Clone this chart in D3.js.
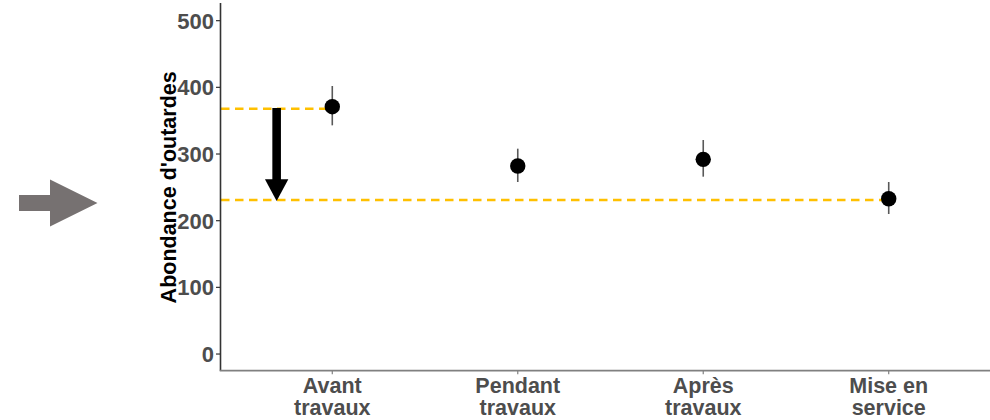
<!DOCTYPE html>
<html>
<head>
<meta charset="utf-8">
<script src="https://cdn.jsdelivr.net/npm/d3@7/dist/d3.min.js"></script>
<style>
  html, body { margin: 0; padding: 0; background: #fff; }
  svg { display: block; }
  text { font-family: "Liberation Sans", Arial, sans-serif; font-weight: bold; }
</style>
</head>
<body>
<svg id="chart" width="990" height="420"></svg>
<script>
// ---- Data ----
const categories = [["Avant", "travaux"], ["Pendant", "travaux"], ["Après", "travaux"], ["Mise en", "service"]];
const values = [371, 282, 292, 233];
const lower = [343, 258, 266, 210];
const upper = [402, 308, 321, 258];
const yTicks = [0, 100, 200, 300, 400, 500];
const refHigh = 368;   // niveau avant travaux
const refLow = 231;    // niveau mise en service
const arrowPos = 0.7;  // position (en unités de catégorie) de la flèche
const arrowHeadTop = 262;

// ---- Layout ----
const svg = d3.select("#chart");
const W = 990, H = 420;
const panel = { left: 221, right: 1000, top: 4, bottom: 370.7 };

const x = d3.scaleLinear().domain([0.4, categories.length + 0.6]).range([panel.left, panel.right]);
const y = d3.scaleLinear().domain([-25, 525]).range([panel.bottom, panel.top]);

// Left decorative grey arrow
svg.append("path")
  .attr("d", "M19,195 L50,195 L50,179.5 L97.5,203 L50,226.5 L50,211 L19,211 Z")
  .attr("fill", "#767171");

// Reference dashed lines
const dash = svg.append("g");
dash.append("line")
  .attr("x1", panel.left).attr("x2", x(1))
  .attr("y1", y(refHigh)).attr("y2", y(refHigh))
  .attr("stroke", "#FFC000").attr("stroke-width", 2.5).attr("stroke-dasharray", "8.5,5.5");
dash.append("line")
  .attr("x1", panel.left).attr("x2", x(4))
  .attr("y1", y(refLow)).attr("y2", y(refLow))
  .attr("stroke", "#FFC000").attr("stroke-width", 2.5).attr("stroke-dasharray", "8.5,5.5");

// Black arrow
const ax = x(arrowPos);
svg.append("rect")
  .attr("x", ax - 4.3).attr("width", 8.6)
  .attr("y", y(refHigh + 1)).attr("height", y(arrowHeadTop) - y(refHigh + 1) + 1)
  .attr("fill", "#000");
svg.append("path")
  .attr("d", `M${ax - 11.7},${y(arrowHeadTop)} L${ax + 11.7},${y(arrowHeadTop)} L${ax},${y(refLow) + 1} Z`)
  .attr("fill", "#000");

// Axes
const yAxis = svg.append("g");
yAxis.append("line")
  .attr("x1", panel.left - 0.5).attr("x2", panel.left - 0.5)
  .attr("y1", panel.top - 1).attr("y2", panel.bottom)
  .attr("stroke", "#333").attr("stroke-width", 1.6);
yTicks.forEach(t => {
  yAxis.append("line")
    .attr("x1", panel.left - 5).attr("x2", panel.left - 0.5)
    .attr("y1", y(t)).attr("y2", y(t))
    .attr("stroke", "#333").attr("stroke-width", 1.2);
  yAxis.append("text")
    .attr("x", panel.left - 7).attr("y", y(t))
    .attr("dy", "0.37em")
    .attr("text-anchor", "end")
    .attr("font-size", 22)
    .attr("fill", "#4d4d4d")
    .text(t);
});

const xAxis = svg.append("g");
xAxis.append("line")
  .attr("x1", panel.left - 1.3).attr("x2", W)
  .attr("y1", panel.bottom).attr("y2", panel.bottom)
  .attr("stroke", "#808080").attr("stroke-width", 1.8);
categories.forEach((c, i) => {
  const cx = x(i + 1);
  xAxis.append("line")
    .attr("x1", cx).attr("x2", cx)
    .attr("y1", panel.bottom).attr("y2", panel.bottom + 3.5)
    .attr("stroke", "#808080").attr("stroke-width", 1.2);
  c.forEach((line, j) => {
    xAxis.append("text")
      .attr("text-anchor", "middle")
      .attr("font-size", 21.5)
      .attr("fill", "#4d4d4d")
      .attr("x", cx).attr("y", 392.5 + j * 22.5)
      .text(line);
  });
});

// Y title
svg.append("text")
  .attr("transform", `translate(176,${(panel.top + panel.bottom) / 2}) rotate(-90)`)
  .attr("text-anchor", "middle")
  .attr("font-size", 21.5)
  .attr("fill", "#000")
  .text("Abondance d'outardes");

// Error bars and points
const g = svg.append("g");
values.forEach((v, i) => {
  const cx = x(i + 1);
  g.append("line")
    .attr("x1", cx).attr("x2", cx)
    .attr("y1", y(upper[i])).attr("y2", y(lower[i]))
    .attr("stroke", "#595959").attr("stroke-width", 1.6);
  g.append("circle")
    .attr("cx", cx).attr("cy", y(v)).attr("r", 7.7)
    .attr("fill", "#000");
});
</script>
</body>
</html>
